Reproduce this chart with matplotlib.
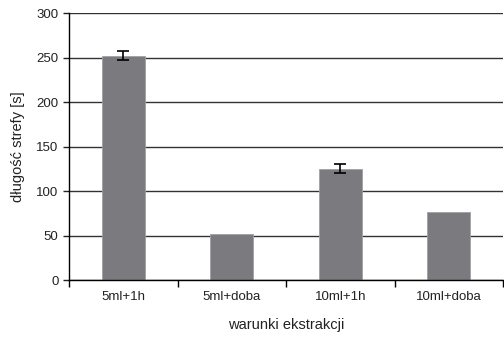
import matplotlib
import matplotlib.pyplot as plt
import numpy as np

matplotlib.use("Agg")

categories = ["5ml+1h", "5ml+doba", "10ml+1h", "10ml+doba"]
values = [252, 52, 125, 76]
errors = [5, 0, 5, 0]

plt.rcParams["font.family"] = ["Liberation Sans", "DejaVu Sans"]

fig = plt.figure(figsize=(5.04, 3.37), dpi=100)
ax = fig.add_axes([0.137, 0.169, 0.861, 0.792])

x = np.arange(len(categories))
ax.set_axisbelow(True)
ax.yaxis.grid(True, color="#333333", linewidth=1.0)
ax.bar(x, values, width=0.4, color="#7b7b7f", edgecolor="#a0a0a4", linewidth=0.6, zorder=2)
err_idx = [i for i, e in enumerate(errors) if e > 0]
ax.errorbar(x[err_idx], [values[i] for i in err_idx], yerr=[errors[i] for i in err_idx],
            fmt="none", ecolor="black", elinewidth=1.2, capsize=4, capthick=1.2, zorder=3)

ax.set_xlim(-0.5, 3.5)
ax.set_ylim(0, 300)
ax.set_yticks(range(0, 301, 50))
ax.set_xticks(x)
ax.set_xticklabels(categories)
ax.set_xticks(np.arange(-0.5, 3.6, 1), minor=True)
ax.tick_params(axis="x", which="major", length=0, labelsize=9.5, pad=8, colors="#222222")
ax.tick_params(axis="x", which="minor", length=5, width=1, direction="out")
ax.tick_params(axis="y", length=4, width=1, labelsize=9.5, colors="#222222", direction="out")

for s in ["top", "right"]:
    ax.spines[s].set_visible(False)
ax.spines["left"].set_linewidth(1.0)
ax.spines["bottom"].set_linewidth(1.0)

ax.set_ylabel("długość strefy [s]", fontsize=10.5, color="#222222", labelpad=8)
ax.set_xlabel("warunki ekstrakcji", fontsize=10.5, color="#222222", labelpad=11)

fig.savefig("out.png", dpi=100)
